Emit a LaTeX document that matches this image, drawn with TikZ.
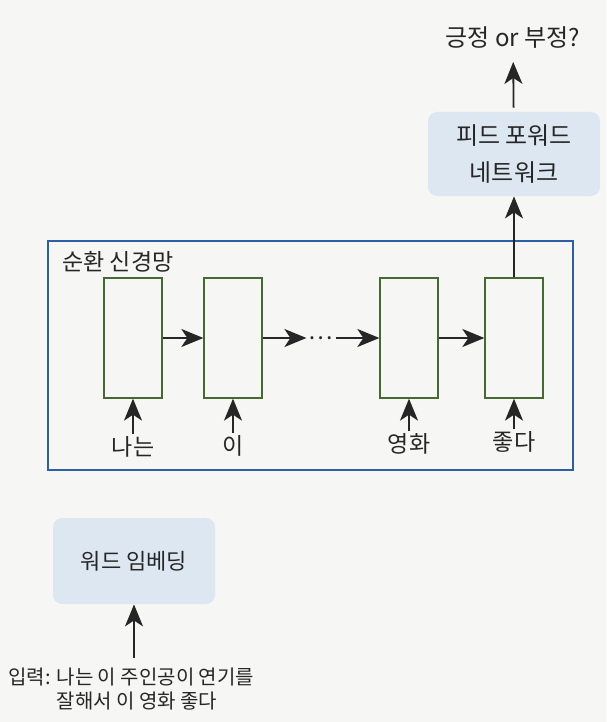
\documentclass[tikz,border=0pt]{standalone}
\usepackage{fontspec}
\setmainfont{Noto Sans CJK KR}
\usetikzlibrary{arrows.meta}
\definecolor{paper}{RGB}{246,246,245}
\definecolor{rnnblue}{RGB}{45,95,165}
\definecolor{cellgreen}{RGB}{70,105,50}
\definecolor{blockblue}{RGB}{221,231,242}
\definecolor{inkgray}{RGB}{38,38,38}

\begin{document}
\begin{tikzpicture}[x=0.5pt, y=-0.5pt,
  font=\fontsize{11.5}{18.5}\selectfont, text=inkgray,
  cell/.style={draw=cellgreen, line width=0.65pt, minimum width=29pt, minimum height=60pt, inner sep=0pt},
  block/.style={fill=blockblue, rounded corners=4.5pt, align=center, inner sep=0pt},
  arr/.style={line width=0.9pt, draw=inkgray, -{Stealth[length=11pt,width=9pt,inset=3pt]}}]
	\fill[paper] (0,0) rectangle (606,722);
	\useasboundingbox (0,0) rectangle (606,722);
	
	% recurrent part
	\node[draw=rnnblue, line width=0.8pt, minimum width=262.5pt, minimum height=114.5pt, inner sep=0pt] (rnn) at (310.5,355.5) {};
	\node[anchor=west, inner sep=0pt] (rnntitle) at (62,262) {순환 신경망};
	
	\node[cell] (c1) at (133,338) {};
	\node[cell] (c2) at (233,338) {};
	\node[cell] (c3) at (409,338) {};
	\node[cell] (c4) at (514,338) {};
	\node[inner sep=1pt] (dots) at (321,338) {\ldots};
	
	\node[inner sep=1pt] (w1) at (133,447) {나는};
	\node[inner sep=1pt] (w2) at (233,446) {이};
	\node[inner sep=1pt] (w3) at (409,444) {영화};
	\node[inner sep=1pt] (w4) at (514,442) {좋다};
	
	\draw[arr] (c1) -- (c2);
	\draw[arr] (c2) -- (dots);
	\draw[arr] (dots) -- (c3);
	\draw[arr] (c3) -- (c4);
	\draw[arr] (w1) -- (c1);
	\draw[arr] (w2) -- (c2);
	\draw[arr] (w3) -- (c3);
	\draw[arr] (w4) -- (c4);
	
	% classifier on top
	\node[block, minimum width=86pt, minimum height=42pt, font=\fontsize{12}{18.5}\selectfont] (ff) at (514,154) {피드 포워드\\네트워크};
	\node[font=\fontsize{12}{14}\selectfont] (out) at (513,38) {긍정 or 부정?};
	\draw[arr] (c4) -- (ff);
	\draw[arr, shorten <=2pt, shorten >=3pt] (ff) -- (out);
	
	% embedding and input
	\node[block, minimum width=81pt, minimum height=43pt, font=\fontsize{11}{14}\selectfont] (emb) at (134,561) {워드 임베딩};
	\node[anchor=west, align=left, inner sep=0pt, font=\fontsize{10}{12}\selectfont] (inp) at (8,689) {입력: 나는 이 주인공이 연기를\\\phantom{입력: }잘해서 이 영화 좋다};
	\draw[arr, shorten <=5pt] (inp.north -| emb.south) -- (emb.south);
\end{tikzpicture}
\end{document}
